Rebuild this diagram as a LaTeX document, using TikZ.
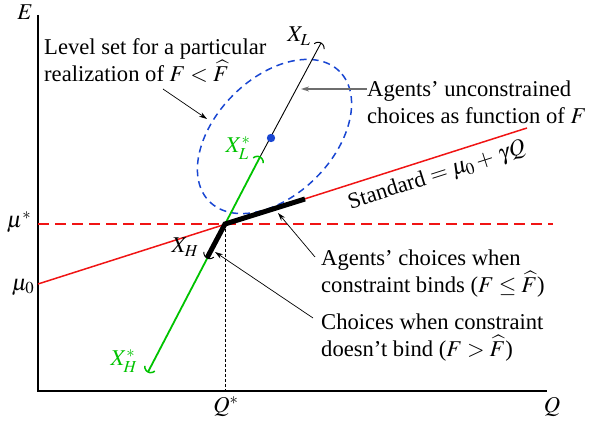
\documentclass[tikz,border=0pt]{standalone}
\usepackage{mathptmx}
\usepackage[no-math]{fontspec}
\setmainfont{Liberation Serif}
\usetikzlibrary{calc,arrows.meta}
\definecolor{myred}{RGB}{240,20,20}
\definecolor{mygreen}{RGB}{0,195,0}
\definecolor{myblue}{RGB}{25,70,210}
\definecolor{mygray}{RGB}{110,110,110}
\newcommand{\myFhat}{\smash{\widehat{F}}}
\tikzset{
  lbl/.style={inner sep=0pt, font=\fontsize{22.6}{27}\selectfont},
  note/.style={lbl, anchor=west, align=left},
  pointer/.style={line width=0.7pt, -{Stealth[length=8pt,width=5pt]}},
  endarc/.style={line width=1pt},
}
\begin{document}
\begin{tikzpicture}[x=1pt,y=1pt]
\useasboundingbox (0,0) rectangle (603,423);
% axes
\coordinate (O) at (38,32);
\coordinate (Etop) at (38,408);
\coordinate (Qend) at (547,32);
\draw[line width=1.3pt] (Etop) -- (O) -- (Qend);
\node[lbl] (E) at (25,411) {$E$};
\node[lbl] (Q) at (552,16) {$Q$};
% kink point
\coordinate (K) at (225,199);
\coordinate (Kb) at (225,32);
% red dashed horizontal
\coordinate (Hs) at (38,199);
\coordinate (He) at (553,199);
\draw[myred, line width=1.5pt, dash pattern=on 11pt off 6pt] (Hs) -- (He);
% red standard line
\coordinate (Rs) at (38,139);
\coordinate (Re) at (527,295);
\draw[myred, line width=1.5pt] (Rs) -- (Re);
\node[lbl, rotate=17.7] (std) at (437,247) {Standard $=\mu_0+\,\gamma Q$};
% dotted vertical
\draw[line width=0.8pt, dash pattern=on 3pt off 2pt] (K) -- (Kb);
\node[lbl] (Qs) at (226,16) {$Q^*$};
\node[lbl] (mus) at (19,201) {$\mu^*$};
\node[lbl] (mu0) at (23,136) {$\mu_0$};
% ellipse
\coordinate (C) at (274.5,286.5);
\draw[myblue, line width=1.5pt, dash pattern=on 7pt off 5pt, rotate around={45:(C)}] (C) ellipse [x radius=92pt, y radius=58.5pt];
% green line
\coordinate (XHs) at (148,51);
\coordinate (XLs) at (260,266);
\draw[mygreen, line width=1.8pt] (XHs) -- (XLs);
% black thin line
\coordinate (XL) at (321,380);
\draw[line width=0.9pt] (XLs) -- (XL);
\fill[myblue] (271,285) circle (4.2pt);
% thick black
\coordinate (Bend) at (305,224);
\coordinate (XH) at (207,165);
\draw[line width=5pt, line join=miter] (Bend) -- (K) -- (XH);
% end caps
\draw[endarc] ($(XL)+(241.5:6)+(-8.5:6)$) arc[start angle=-8.5, end angle=131.5, radius=6];
\draw[endarc, mygreen, line width=1.5pt] ($(XLs)+(242.5:6)+(-7.5:6)$) arc[start angle=-7.5, end angle=132.5, radius=6];
\draw[endarc] ($(XH)+(62:6)+(172:6)$) arc[start angle=172, end angle=312, radius=6];
\draw[endarc, mygreen, line width=1.5pt] ($(XHs)+(62.5:6)+(172.5:6)$) arc[start angle=172.5, end angle=312.5, radius=6];
% endpoint labels
\node[lbl] (lXL) at (299,387) {$X_L$};
\node[lbl, text=mygreen] (lXLs) at (238,275) {$X_L^*$};
\node[lbl] (lXH) at (185,176) {$X_H$};
\node[lbl, text=mygreen] (lXHs) at (124,62) {$X_H^*$};
% notes
\node[note] (n1) at (44,362.5) {Level set for a particular\\realization of $F<\myFhat$};
\coordinate (a1s) at (163,334);
\coordinate (a1e) at (207,304);
\draw[pointer] (a1s) -- (a1e);
\node[note] (n2) at (367,321) {Agents’ unconstrained\\choices as function of $F$};
\coordinate (a2e) at (301,334);
\draw[pointer, mygray, line width=1.4pt] (n2.west |- a2e) -- (a2e);
\node[note] (n3) at (321,149) {Agents’ choices when\\constraint binds ($F\leq\myFhat$)};
\coordinate (a3s) at (315,166);
\coordinate (a3e) at (278,210);
\draw[pointer] (a3s) -- (a3e);
\node[note] (n4) at (321,85.5) {Choices when constraint\\doesn’t bind ($F>\myFhat$)};
\coordinate (a4s) at (313,105);
\coordinate (a4e) at (215,171);
\draw[pointer] (a4s) -- (a4e);
\end{tikzpicture}
\end{document}
